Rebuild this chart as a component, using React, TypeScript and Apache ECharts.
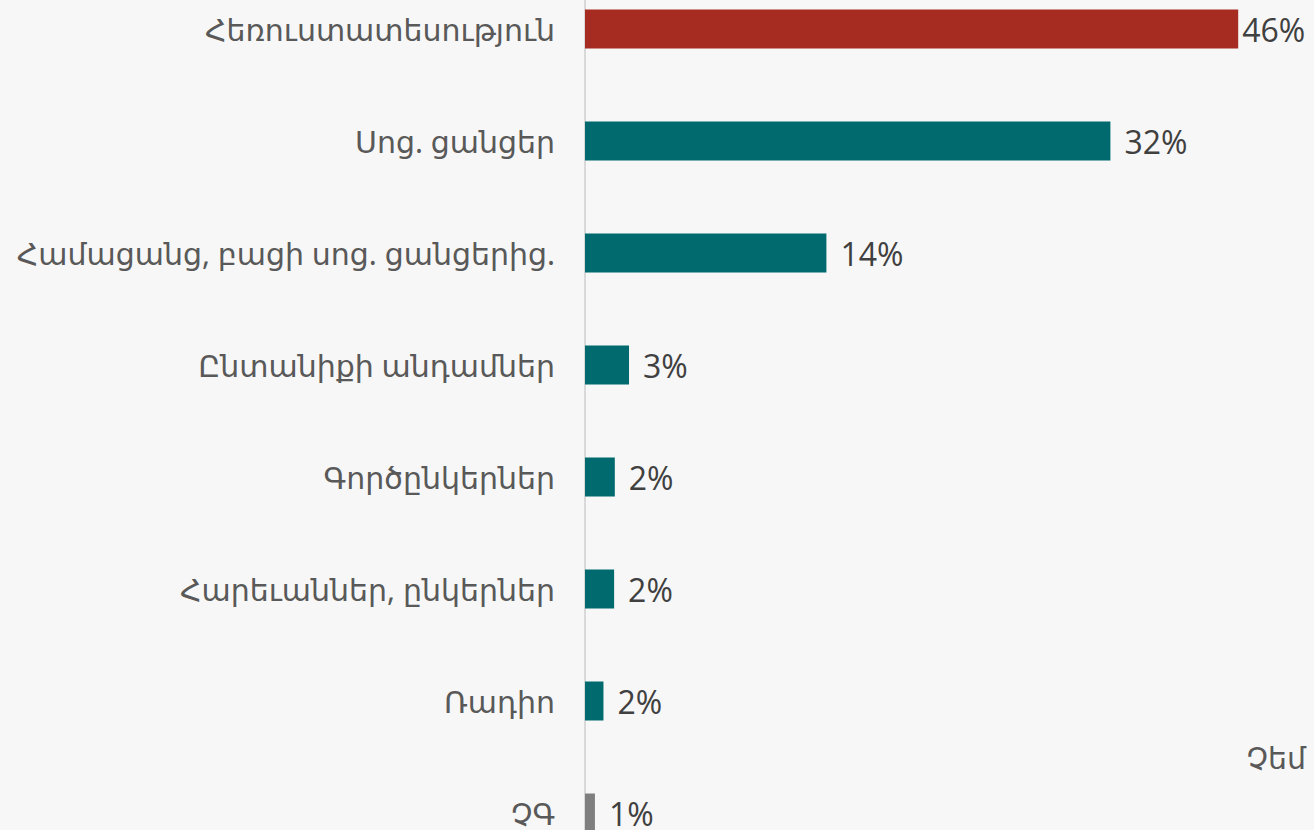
import React, { useEffect, useRef } from "react";
import * as echarts from "echarts";

const categories = [
  "Հեռուստատեսություն",
  "Սոց. ցանցեր",
  "Համացանց, բացի սոց. ցանցերից.",
  "Ընտանիքի անդամներ",
  "Գործընկերներ",
  "Հարեւաններ, ընկերներ",
  "Ռադիո",
  "ՉԳ",
];
// bar lengths
const values = [46, 37, 17, 3.1, 2.1, 2.05, 1.3, 0.7];
// printed labels
const valueLabels = ["46%", "32%", "14%", "3%", "2%", "2%", "2%", "1%"];
const cutLabel = "Չեմ";

const RED = "#a62b21";
const TEAL = "#006a6e";
const GRAY = "#7f7f7f";

const SHIFT = 27; // chart extends above the visible page
const FULL_H = 896;

export default function App() {
  const ref = useRef<HTMLDivElement>(null);
  useEffect(() => {
    document.body.style.margin = "0";
    document.body.style.overflow = "hidden";
    const chart = echarts.init(ref.current!, undefined, { renderer: "svg" });
    const armFont = "'Noto Sans', 'DejaVu Sans', sans-serif";
    chart.setOption({
      animation: false,
      backgroundColor: "#f7f7f7",
      grid: { left: 585, right: 19, top: 0, bottom: 0, containLabel: false },
      xAxis: {
        type: "value",
        min: 0,
        max: 50,
        show: false,
      },
      yAxis: {
        type: "category",
        inverse: true,
        data: categories,
        axisLine: { show: true, lineStyle: { color: "#d9d9d9", width: 2 } },
        axisTick: { show: false },
        axisLabel: {
          color: "#595959",
          fontSize: 30,
          fontFamily: armFont,
          margin: 30,
        },
        splitLine: { show: false },
      },
      series: [
        {
          type: "bar",
          barWidth: 39,
          data: values.map((v, i) => ({
            value: v,
            itemStyle: {
              color: i === 0 ? RED : i === values.length - 1 ? GRAY : TEAL,
            },
            label: i === 0 ? { distance: 4 } : undefined,
          })),
          label: {
            show: true,
            position: "right",
            distance: 14,
            color: "#404040",
            fontSize: 32,
            fontFamily: "'Open Sans', 'Noto Sans', sans-serif",
            formatter: (p: any) => valueLabels[p.dataIndex],
          },
        },
      ],
      graphic: [
        {
          type: "text",
          right: 8,
          top: 742 + SHIFT,
          style: {
            text: cutLabel,
            fill: "#595959",
            fontSize: 30,
            fontFamily: armFont,
          },
        },
      ],
    });
    return () => chart.dispose();
  }, []);
  return (
    <div
      ref={ref}
      style={{ position: "absolute", left: 0, top: -SHIFT, width: 1314, height: FULL_H }}
    />
  );
}
